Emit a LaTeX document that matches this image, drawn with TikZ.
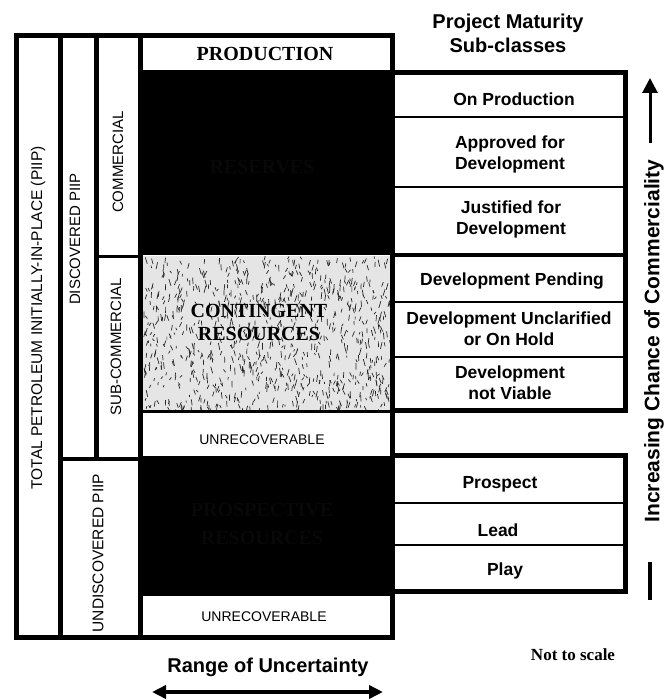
\documentclass[tikz,border=0pt]{standalone}
\usepackage{fontspec}
\setmainfont{Liberation Serif}
\setsansfont{Liberation Sans}
\usetikzlibrary{arrows.meta}
\tikzset{
  thickline/.style={line width=5pt},
  rowline/.style={line width=2.5pt},
  lbl/.style={font=\sffamily\bfseries\fontsize{17.5}{21}\selectfont, align=center, inner sep=0pt},
  vlbl/.style={font=\sffamily\fontsize{15}{18}\selectfont, rotate=90, inner sep=0pt},
  serifbig/.style={font=\rmfamily\bfseries\fontsize{20}{23}\selectfont, align=center, inner sep=0pt},
  hidden/.style={serifbig, text=black!97, font=\rmfamily\bfseries\fontsize{20}{28}\selectfont},
  unrec/.style={font=\sffamily\fontsize{14}{17}\selectfont, inner sep=0pt},
  heading/.style={font=\sffamily\bfseries\fontsize{20}{24}\selectfont, align=center, inner sep=0pt},
}
\begin{document}
\begin{tikzpicture}[x=1pt,y=-1pt]
\useasboundingbox (0,0) rectangle (664,700);
\fill[white] (0,0) rectangle (664,700);

% central column fills
\fill[black] (140.5,70) rectangle (392.5,255);
\fill[black] (140.5,456) rectangle (392.5,596);

% contingent texture
\begin{scope}
\clip (143,256) rectangle (390,409.5);
\fill[black!10] (143,256) rectangle (390,409.5);
\pgfmathsetseed{12}
\foreach \i in {1,...,850}{
  \pgfmathsetmacro{\rx}{143+247*rnd}
  \pgfmathsetmacro{\ry}{255+155*rnd}
  \pgfmathsetmacro{\dx}{2.2*rand}
  \pgfmathsetmacro{\dy}{2+5*rnd}
  \draw[line width=0.7pt, black!85] (\rx,\ry) -- ++(\dx,\dy);
}
\end{scope}

% main frame and columns
\draw[thickline] (16.5,36) rectangle (392.5,637.5);
\draw[thickline] (60,36) -- (60,637.5);
\draw[thickline] (96.5,36) -- (96.5,459);
\draw[thickline] (140.5,36) -- (140.5,637.5);
\draw[line width=4pt] (60,459) -- (140.5,459);
\draw[line width=3pt] (96.5,256) -- (140.5,256);
\draw[line width=3pt] (140.5,411) -- (392.5,411);

% right boxes
\draw[thickline] (392.5,73) rectangle (625,410.5);
\draw[rowline] (392.5,117) -- (625,117);
\draw[rowline] (392.5,187) -- (625,187);
\draw[line width=3pt] (392.5,255) -- (625,255);
\draw[rowline] (392.5,302) -- (625,302);
\draw[rowline] (392.5,357) -- (625,357);

\draw[thickline] (392.5,455) rectangle (625.5,591.5);
\draw[rowline] (392.5,503) -- (625.5,503);
\draw[rowline] (392.5,545) -- (625.5,545);

% central texts
\node[serifbig] (prod) at (265,54) {PRODUCTION};
\node[hidden] (res) at (262,167) {RESERVES};
\node[serifbig] (cont) at (259,322) {CONTINGENT\\RESOURCES};
\node[unrec] (unrec1) at (262,440) {UNRECOVERABLE};
\node[hidden, align=center] (prosp) at (262,524) {PROSPECTIVE\\RESOURCES};
\node[unrec] (unrec2) at (264,617) {UNRECOVERABLE};

% vertical left labels
\node[vlbl, font=\sffamily\fontsize{15.5}{18}\selectfont] (tpiip) at (38,318) {TOTAL PETROLEUM INITIALLY-IN-PLACE (PIIP)};
\node[vlbl] (dpiip) at (75,239) {DISCOVERED PIIP};
\node[vlbl] (comm) at (118,162) {COMMERCIAL};
\node[vlbl] (subc) at (116,347) {SUB-COMMERCIAL};
\node[vlbl, font=\sffamily\fontsize{15.5}{18}\selectfont] (upiip) at (98,553) {UNDISCOVERED PIIP};

% right column texts
\node[heading] (pm) at (508,33) {Project Maturity\\Sub-classes};
\node[lbl] (onprod) at (514,99) {On Production};
\node[lbl] (appr) at (510,154) {Approved for\\Development};
\node[lbl] (just) at (511,219) {Justified for\\Development};
\node[lbl] (pend) at (512,281) {Development Pending};
\node[lbl] (uncl) at (509,329) {Development Unclarified\\or On Hold};
\node[lbl] (notv) at (510,383) {Development\\not Viable};
\node[lbl] (prospect) at (500,484) {Prospect};
\node[lbl] (lead) at (498,530) {Lead};
\node[lbl] (play) at (505,571) {Play};

% increasing chance arrow
\node[font=\sffamily\bfseries\fontsize{21}{24}\selectfont, rotate=90, inner sep=0pt] (incr) at (654,341) {Increasing Chance of Commerciality};
\coordinate (uptail) at (650,143);
\coordinate (uptip) at (650,78);
\coordinate (barA) at (650,562);
\coordinate (barB) at (650,600);
\draw[line width=3pt, -{Triangle[length=15pt,width=15pt]}] (uptail) -- (uptip);
\draw[line width=4.5pt] (barA) -- (barB);

% range of uncertainty
\node[font=\sffamily\bfseries\fontsize{20}{24}\selectfont, inner sep=0pt] (rou) at (268,667) {Range of Uncertainty};
\coordinate (rl) at (152,692);
\coordinate (rr) at (383,692);
\draw[line width=4pt, {Triangle[length=14pt,width=13pt]}-{Triangle[length=14pt,width=13pt]}] (rl) -- (rr);

\node[font=\rmfamily\bfseries\fontsize{17}{20}\selectfont, inner sep=0pt] (nts) at (573,655) {Not to scale};
\end{tikzpicture}
\end{document}
